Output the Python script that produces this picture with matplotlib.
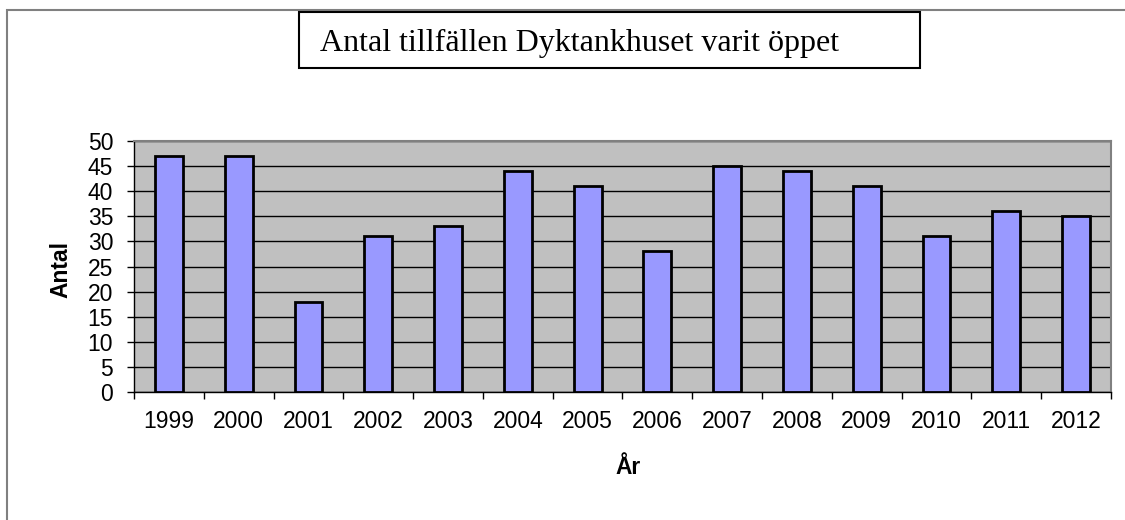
import numpy as np
from matplotlib import pyplot as plt
from matplotlib.patches import Rectangle

years = ['1999', '2000', '2001', '2002', '2003', '2004', '2005',
         '2006', '2007', '2008', '2009', '2010', '2011', '2012']
antal = [47, 47, 18, 31, 33, 44, 41, 28, 45, 44, 41, 31, 36, 35]
y_ticks = [0, 5, 10, 15, 20, 25, 30, 35, 40, 45, 50]

plt.rcParams['font.family'] = ['Liberation Sans', 'DejaVu Sans']

W, H = 1125, 520
fig = plt.figure(figsize=(W / 100, H / 100), dpi=100)
ax = fig.add_axes([134 / W, 1 - 392 / H, (1111 - 134) / W, (392 - 141) / H])

x = np.arange(len(years))
ax.set_facecolor('#C0C0C0')
ax.bar(x, antal, width=0.4, color='#9999FF', edgecolor='black', linewidth=2, zorder=3)

ax.set_xlim(-0.5, len(years) - 0.5)
ax.set_ylim(0, 50)
ax.set_yticks(y_ticks)
ax.yaxis.grid(True, color='black', linewidth=1, zorder=0)
ax.tick_params(axis='y', labelsize=16.5, length=5, width=1, pad=10)

# tick marks between categories, labels centred under bars
ax.set_xticks(np.arange(len(years) + 1) - 0.5)
ax.set_xticklabels([])
ax.set_xticks(x, minor=True)
ax.set_xticklabels(years, minor=True, fontsize=16.5)
ax.tick_params(axis='x', which='major', length=5, width=1, direction='out')
ax.tick_params(axis='x', which='minor', length=0, pad=13)

for s in ['top', 'right']:
    ax.spines[s].set_color('#808080')
    ax.spines[s].set_linewidth(1.5)
for s in ['left', 'bottom']:
    ax.spines[s].set_color('black')
    ax.spines[s].set_linewidth(1)

ax.set_ylabel('Antal', fontsize=16.5, fontweight='bold', va='center')
ax.yaxis.set_label_coords((61 - 134) / 977, (392 - 270) / 251)
ax.set_xlabel('År', fontsize=16.5, fontweight='bold', va='center')
ax.xaxis.set_label_coords((628 - 134) / 977, (392 - 468) / 251)

# outer chart border
fig.patches.append(Rectangle((7 / W, -0.05), 1.0, 1 - 10 / H + 0.05,
                             transform=fig.transFigure, fill=False,
                             edgecolor='#808080', linewidth=1.5))

# title in a box
fig.patches.append(Rectangle((299 / W, 1 - 68 / H), 621 / W, 56 / H,
                             transform=fig.transFigure, facecolor='white',
                             edgecolor='black', linewidth=1.5))
fig.text(320 / W, 1 - 51 / H, 'Antal tillfällen Dyktankhuset varit öppet',
         family='Liberation Serif', fontsize=23, va='baseline', ha='left')

plt.savefig('out.png', dpi=100)
plt.close()
